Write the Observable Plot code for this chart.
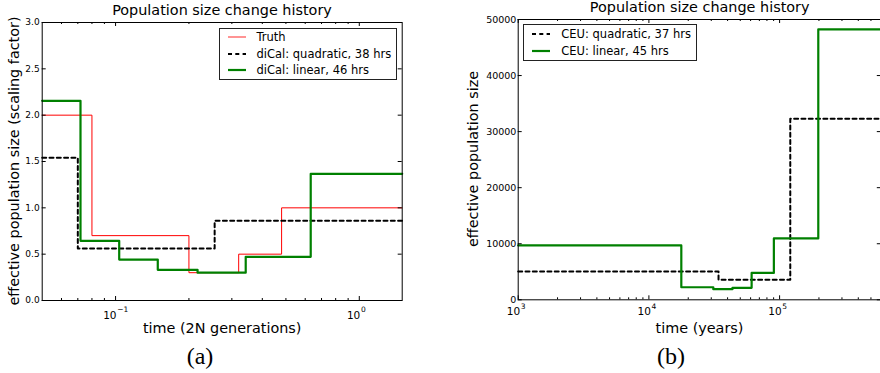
<!DOCTYPE html>
<html>
<head>
<meta charset="utf-8">
<script src="https://cdn.jsdelivr.net/npm/d3@7"></script>
<script src="https://cdn.jsdelivr.net/npm/@observablehq/plot@0.6"></script>
<style>
  body { margin: 0; background: #fff; overflow: hidden; }
  #root { position: relative; width: 880px; height: 373px; overflow: hidden; font-family: "DejaVu Sans", sans-serif; color: #000; }
  .abs { position: absolute; white-space: nowrap; line-height: normal; transform: translate(-50%, -50%); }
  .rot { transform: translate(-50%, -50%) rotate(-90deg); }
  .cap { font-family: "Liberation Serif", serif; font-size: 24px; }
  .legend { position: absolute; border: 1px solid #222; background: #fff; box-sizing: border-box; }
  .row { position: absolute; left: 0; font-size: 11.5px; white-space: nowrap; }
  .row svg { position: absolute; overflow: visible; }
  .row span { position: absolute; transform: translateY(-50%); }
</style>
</head>
<body>
<div id="root"></div>
<script>
// ---------- Panel (a): time in 2N generations, scaling factor ----------
const truthTimes = [0.05, 0.08, 0.2, 0.32, 0.48, 1.5];
const truthSizes = [2.0, 0.7, 0.3, 0.5, 1.0, 1.0];
const quadTimesA = [0.05, 0.07, 0.255, 1.5];
const quadSizesA = [1.54, 0.56, 0.86, 0.86];
const linTimesA = [0.05, 0.0718, 0.1035, 0.149, 0.217, 0.342, 0.632, 1.5];
const linSizesA = [2.155, 0.644, 0.442, 0.331, 0.30, 0.471, 1.367, 1.367];

const majorXA = [0.1, 1];
const majorXBaseA = ["10", "10"];
const majorXExpA = ["\u22121", "0"];
const minorXA = [0.06, 0.07, 0.08, 0.09, 0.2, 0.3, 0.4, 0.5, 0.6, 0.7, 0.8, 0.9];
const yTicksA = [0, 0.5, 1, 1.5, 2, 2.5, 3];
const yTickLabelsA = ["0.0", "0.5", "1.0", "1.5", "2.0", "2.5", "3.0"];
const legendA = ["Truth", "diCal: quadratic, 38 hrs", "diCal: linear, 46 hrs"];

// ---------- Panel (b): time in years, effective population size ----------
const quadYearsB = [1000, 34100, 120700, 600000];
const quadNeB = [5050, 3570, 32300, 32300];
const linYearsB = [1000, 17700, 31100, 43600, 61100, 90400, 197700, 600000];
const linNeB = [9700, 2240, 1890, 2140, 4800, 10950, 48250, 48250];

const majorXB = [1e3, 1e4, 1e5];
const majorXBaseB = ["10", "10", "10"];
const majorXExpB = ["3", "4", "5"];
const minorXB = [2e3, 3e3, 4e3, 5e3, 6e3, 7e3, 8e3, 9e3, 2e4, 3e4, 4e4, 5e4, 6e4, 7e4, 8e4, 9e4, 2e5, 3e5, 4e5, 5e5];
const yTicksB = [0, 10000, 20000, 30000, 40000, 50000];
const yTickLabelsB = ["0", "10000", "20000", "30000", "40000", "50000"];
const legendB = ["CEU: quadratic, 37 hrs", "CEU: linear, 45 hrs"];

const title = "Population size change history";

const RED = "#ff0000", GREEN = "#008000", BLACK = "#000000";
const DASH = "4,3.3";

const toRows = (ts, vs) => ts.map((t, i) => ({t, v: vs[i]}));

function panel(o) {
  const fw = o.width - o.mL - o.mR, fh = o.height - o.mT - o.mB;
  return Plot.plot({
    width: o.width, height: o.height,
    marginLeft: o.mL, marginRight: o.mR, marginTop: o.mT, marginBottom: o.mB,
    x: {type: "log", domain: o.xDomain, axis: null},
    y: {domain: o.yDomain},
    style: {fontFamily: "DejaVu Sans", background: "transparent", overflow: "visible", color: "#000"},
    marks: [
      ...o.series.map(s => Plot.line(s.data, {
        x: "t", y: "v", curve: "step-after",
        stroke: s.color, strokeWidth: s.width, strokeDasharray: s.dash
      })),
      Plot.frame({stroke: "#000", strokeWidth: 1}),
      Plot.ruleX(o.majorX, {insetTop: fh - 4, stroke: "#000"}),
      Plot.ruleX(o.majorX, {insetBottom: fh - 4, stroke: "#000"}),
      Plot.ruleX(o.minorX, {insetTop: fh - 2, stroke: "#000"}),
      Plot.ruleX(o.minorX, {insetBottom: fh - 2, stroke: "#000"}),
      Plot.ruleY(o.yTicks, {insetRight: fw - 4, stroke: "#000"}),
      Plot.ruleY(o.yTicks, {insetLeft: fw - 4, stroke: "#000"}),
      // x tick labels: base "10" and raised exponent
      Plot.text(o.majorX, {
        x: d => d, frameAnchor: "bottom", lineAnchor: "top", textAnchor: "end",
        text: (d, i) => o.majorXBase[i], dx: o.baseDx, dy: o.baseDy, fontSize: o.xFont, fill: "#000"
      }),
      Plot.text(o.majorX, {
        x: d => d, frameAnchor: "bottom", lineAnchor: "top", textAnchor: "start",
        text: (d, i) => o.majorXExp[i], dx: o.baseDx + 0.6, dy: o.expDy, fontSize: o.expFont, fill: "#000"
      }),
      Plot.axisY({
        ticks: o.yTicks, tickSize: 0, tickPadding: o.yPad,
        tickFormat: d => o.yLabels[o.yTicks.indexOf(d)],
        fontSize: o.yFont, label: null
      })
    ]
  });
}

const root = document.getElementById("root");

const svgA = panel({
  width: 440, height: 340, mL: 41.7, mR: 38.3, mT: 22, mB: 40,
  xDomain: [0.05, 1.5], yDomain: [0, 3],
  majorX: majorXA, majorXBase: majorXBaseA, majorXExp: majorXExpA, minorX: minorXA,
  yTicks: yTicksA, yLabels: yTickLabelsA,
  xFont: 10.5, expFont: 7.5, baseDx: 1, baseDy: 11.5, expDy: 6, yFont: 9, yPad: 2.5,
  series: [
    {data: toRows(truthTimes, truthSizes), color: RED, width: 1},
    {data: toRows(quadTimesA, quadSizesA), color: BLACK, width: 2, dash: DASH},
    {data: toRows(linTimesA, linSizesA), color: GREEN, width: 2.2}
  ]
});
svgA.style.position = "absolute"; svgA.style.left = "0px"; svgA.style.top = "0px";
root.appendChild(svgA);

const svgB = panel({
  width: 442, height: 340, mL: 77.7, mR: 1.2, mT: 19, mB: 40.7,
  xDomain: [1e3, 6e5], yDomain: [0, 50000],
  majorX: majorXB, majorXBase: majorXBaseB, majorXExp: majorXExpB, minorX: minorXB,
  yTicks: yTicksB, yLabels: yTickLabelsB,
  xFont: 10.5, expFont: 7.5, baseDx: 2, baseDy: 7.4, expDy: 3.4, yFont: 9.5, yPad: 1.8,
  series: [
    {data: toRows(quadYearsB, quadNeB), color: BLACK, width: 2, dash: DASH},
    {data: toRows(linYearsB, linNeB), color: GREEN, width: 2.2}
  ]
});
svgB.style.position = "absolute"; svgB.style.left = "440px"; svgB.style.top = "0px";
root.appendChild(svgB);

function label(text, x, y, cls, size) {
  const d = document.createElement("div");
  d.className = "abs " + (cls || "");
  d.style.left = x + "px"; d.style.top = y + "px";
  if (size) d.style.fontSize = size + "px";
  d.textContent = text;
  root.appendChild(d);
}

label(title, 222, 10, "", 14.4);
label(title, 699.7, 7.3, "", 14.4);
label("time (2N generations)", 222.2, 328, "", 14.4);
label("time (years)", 699.5, 328, "", 14.4);
label("effective population size (scaling factor)", 13.8, 161, "rot", 14.4);
label("effective population size", 472.7, 159, "rot", 14.4);
label("(a)", 200, 356, "cap");
label("(b)", 671, 356, "cap");

function legend(x, y, w, h, entries, styles, rowYs) {
  const box = document.createElement("div");
  box.className = "legend";
  Object.assign(box.style, {left: x + "px", top: y + "px", width: w + "px", height: h + "px"});
  entries.forEach((txt, i) => {
    const row = document.createElement("div");
    row.className = "row";
    row.style.top = rowYs[i] + "px";
    const s = styles[i];
    row.innerHTML =
      `<svg width="18" height="4" style="left:8px;top:-2px"><line x1="0" y1="2" x2="18" y2="2" stroke="${s.color}" stroke-width="${s.width}" ${s.dash ? `stroke-dasharray="${s.dash}"` : ""}/></svg>` +
      `<span style="left:37px">${txt}</span>`;
    box.appendChild(row);
  });
  root.appendChild(box);
}

legend(218.5, 27.7, 178, 52.3, legendA,
  [{color: "#ff7070", width: 1.5}, {color: BLACK, width: 2, dash: DASH}, {color: GREEN, width: 2.2}],
  [8.5, 25.2, 41.8]);
legend(523.3, 24, 174, 36.7, legendB,
  [{color: BLACK, width: 2, dash: DASH}, {color: GREEN, width: 2.2}],
  [8.8, 25.5]);
</script>
</body>
</html>
